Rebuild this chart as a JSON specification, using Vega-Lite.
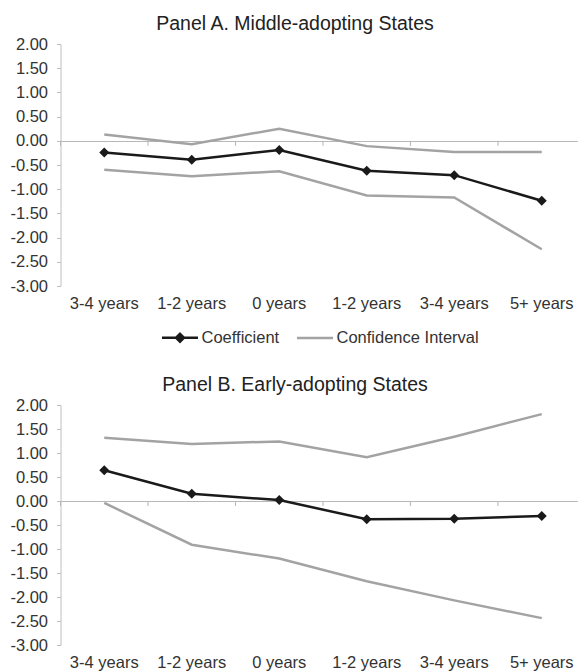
{
  "$schema": "https://vega.github.io/schema/vega-lite/v6.json",
  "padding": {"left": 9.5, "top": 14, "right": 0, "bottom": 0},
  "background": "white",
  "config": {
    "view": {"stroke": null},
    "font": "Liberation Sans",
    "title": {"font": "Liberation Sans", "fontSize": 19.5, "fontWeight": "normal", "color": "#222222", "anchor": "middle", "dx": -25, "offset": 1.3},
    "axis": {"labelFont": "Liberation Sans", "labelColor": "#333333", "labelFontSize": 16.5, "grid": false}
  },
  "datasets": {
    "est": [
      {"panel": "A", "k": 1, "series": "Coefficient", "line": "coef", "value": -0.24},
      {"panel": "A", "k": 2, "series": "Coefficient", "line": "coef", "value": -0.39},
      {"panel": "A", "k": 3, "series": "Coefficient", "line": "coef", "value": -0.19},
      {"panel": "A", "k": 4, "series": "Coefficient", "line": "coef", "value": -0.62},
      {"panel": "A", "k": 5, "series": "Coefficient", "line": "coef", "value": -0.71},
      {"panel": "A", "k": 6, "series": "Coefficient", "line": "coef", "value": -1.24},
      {"panel": "A", "k": 1, "series": "Confidence Interval", "line": "upper", "value": 0.13},
      {"panel": "A", "k": 2, "series": "Confidence Interval", "line": "upper", "value": -0.07},
      {"panel": "A", "k": 3, "series": "Confidence Interval", "line": "upper", "value": 0.25},
      {"panel": "A", "k": 4, "series": "Confidence Interval", "line": "upper", "value": -0.11},
      {"panel": "A", "k": 5, "series": "Confidence Interval", "line": "upper", "value": -0.23},
      {"panel": "A", "k": 6, "series": "Confidence Interval", "line": "upper", "value": -0.23},
      {"panel": "A", "k": 1, "series": "Confidence Interval", "line": "lower", "value": -0.60},
      {"panel": "A", "k": 2, "series": "Confidence Interval", "line": "lower", "value": -0.73},
      {"panel": "A", "k": 3, "series": "Confidence Interval", "line": "lower", "value": -0.63},
      {"panel": "A", "k": 4, "series": "Confidence Interval", "line": "lower", "value": -1.13},
      {"panel": "A", "k": 5, "series": "Confidence Interval", "line": "lower", "value": -1.17},
      {"panel": "A", "k": 6, "series": "Confidence Interval", "line": "lower", "value": -2.24},
      {"panel": "B", "k": 1, "series": "Coefficient", "line": "coef", "value": 0.64},
      {"panel": "B", "k": 2, "series": "Coefficient", "line": "coef", "value": 0.15},
      {"panel": "B", "k": 3, "series": "Coefficient", "line": "coef", "value": 0.02},
      {"panel": "B", "k": 4, "series": "Coefficient", "line": "coef", "value": -0.38},
      {"panel": "B", "k": 5, "series": "Coefficient", "line": "coef", "value": -0.37},
      {"panel": "B", "k": 6, "series": "Coefficient", "line": "coef", "value": -0.31},
      {"panel": "B", "k": 1, "series": "Confidence Interval", "line": "upper", "value": 1.32},
      {"panel": "B", "k": 2, "series": "Confidence Interval", "line": "upper", "value": 1.19},
      {"panel": "B", "k": 3, "series": "Confidence Interval", "line": "upper", "value": 1.24},
      {"panel": "B", "k": 4, "series": "Confidence Interval", "line": "upper", "value": 0.91},
      {"panel": "B", "k": 5, "series": "Confidence Interval", "line": "upper", "value": 1.34},
      {"panel": "B", "k": 6, "series": "Confidence Interval", "line": "upper", "value": 1.81},
      {"panel": "B", "k": 1, "series": "Confidence Interval", "line": "lower", "value": -0.04},
      {"panel": "B", "k": 2, "series": "Confidence Interval", "line": "lower", "value": -0.91},
      {"panel": "B", "k": 3, "series": "Confidence Interval", "line": "lower", "value": -1.20},
      {"panel": "B", "k": 4, "series": "Confidence Interval", "line": "lower", "value": -1.67},
      {"panel": "B", "k": 5, "series": "Confidence Interval", "line": "lower", "value": -2.07},
      {"panel": "B", "k": 6, "series": "Confidence Interval", "line": "lower", "value": -2.44}
    ]
  },
  "data": {"name": "est"},
  "spacing": 28,
  "resolve": {"scale": {"color": "independent"}, "legend": {"color": "independent"}},
  "vconcat": [
    {
      "width": 519,
      "height": 242,
      "title": {"text": "Panel A. Middle-adopting States"},
      "transform": [{"filter": "datum.panel === 'A'"}],
      "encoding": {
        "y": {"field": "value", "type": "quantitative",
          "scale": {"domain": [-3, 2], "nice": false, "zero": false},
          "axis": {"title": null, "values": [-3, -2.5, -2, -1.5, -1, -0.5, 0, 0.5, 1, 1.5, 2],
            "labelExpr": "(datum.value < 0 ? '-' : '') + format(abs(datum.value), '.2f')",
            "grid": true, "gridColor": "#b8b8b8", "gridWidth": 1.1,
            "gridOpacity": {"condition": {"test": "datum.value === 0", "value": 1}, "value": 0},
            "domainColor": "#bfbfbf", "tickColor": "#bfbfbf", "tickSize": 4, "labelPadding": 9}}
      },
      "layer": [
        {
          "mark": {"type": "line", "strokeWidth": 2.5},
          "encoding": {
            "x": {"field": "k", "type": "ordinal", "bandPosition": 0.5,
              "scale": {"type": "band", "paddingInner": 0, "paddingOuter": 0, "rangeMax": 525},
              "axis": {"title": null, "orient": "bottom", "domain": false, "ticks": false, "labelAngle": 0, "labelPadding": 9.3, "bandPosition": 0.5,
                "labelExpr": "['3-4 years','1-2 years','0 years','1-2 years','3-4 years','5+ years'][datum.value - 1]"}},
            "color": {"field": "series", "type": "nominal",
              "scale": {"domain": ["Coefficient", "Confidence Interval"], "range": ["#1a1a1a", "#a3a3a3"]},
              "legend": {"title": null, "orient": "none", "legendX": 100, "legendY": 274, "direction": "horizontal",
                "labelFont": "Liberation Sans", "labelFontSize": 16.5, "labelColor": "#333333", "labelOffset": 2, "columnPadding": 12,
                "symbolSize": 1300, "symbolStrokeWidth": 2.5,
                "encode": {"symbols": {"update": {
                  "shape": {"signal": "datum.value === 'Coefficient' ? 'M-1,0H1M0,-0.22L0.22,0L0,0.22L-0.22,0Z' : 'M-1,0H1'"},
                  "fill": {"signal": "datum.value === 'Coefficient' ? '#1a1a1a' : 'transparent'"},
                  "stroke": {"signal": "datum.value === 'Coefficient' ? '#1a1a1a' : '#a3a3a3'"},
                  "strokeWidth": {"value": 2.5},
                  "opacity": {"value": 1}
                }}}}},
            "detail": {"field": "line"}
          }
        },
        {
          "transform": [{"filter": "datum.line === 'coef'"}],
          "mark": {"type": "tick", "orient": "vertical", "color": "#b8b8b8", "size": 5, "thickness": 1.1, "opacity": 1},
          "encoding": {
            "x": {"field": "k", "type": "ordinal", "bandPosition": 0},
            "y": {"datum": -0.052}
          }
        },
        {
          "transform": [{"filter": "datum.line === 'coef'"}],
          "mark": {"type": "point", "shape": "diamond", "filled": true, "size": 100, "color": "#1a1a1a", "opacity": 1},
          "encoding": {"x": {"field": "k", "type": "ordinal", "bandPosition": 0.5}}
        }
      ]
    },
    {
      "width": 519,
      "height": 240,
      "title": {"text": "Panel B. Early-adopting States"},
      "transform": [{"filter": "datum.panel === 'B'"}],
      "encoding": {
        "y": {"field": "value", "type": "quantitative",
          "scale": {"domain": [-3, 2], "nice": false, "zero": false},
          "axis": {"title": null, "values": [-3, -2.5, -2, -1.5, -1, -0.5, 0, 0.5, 1, 1.5, 2],
            "labelExpr": "(datum.value < 0 ? '-' : '') + format(abs(datum.value), '.2f')",
            "grid": true, "gridColor": "#b8b8b8", "gridWidth": 1.1,
            "gridOpacity": {"condition": {"test": "datum.value === 0", "value": 1}, "value": 0},
            "domainColor": "#bfbfbf", "tickColor": "#bfbfbf", "tickSize": 4, "labelPadding": 9}}
      },
      "layer": [
        {
          "mark": {"type": "line", "strokeWidth": 2.5},
          "encoding": {
            "x": {"field": "k", "type": "ordinal", "bandPosition": 0.5,
              "scale": {"type": "band", "paddingInner": 0, "paddingOuter": 0, "rangeMax": 525},
              "axis": {"title": null, "orient": "bottom", "domain": false, "ticks": false, "labelAngle": 0, "labelPadding": 9.3, "bandPosition": 0.5,
                "labelExpr": "['3-4 years','1-2 years','0 years','1-2 years','3-4 years','5+ years'][datum.value - 1]"}},
            "color": {"field": "series", "type": "nominal",
              "scale": {"domain": ["Coefficient", "Confidence Interval"], "range": ["#1a1a1a", "#a3a3a3"]},
              "legend": null},
            "detail": {"field": "line"}
          }
        },
        {
          "transform": [{"filter": "datum.line === 'coef'"}],
          "mark": {"type": "tick", "orient": "vertical", "color": "#b8b8b8", "size": 5, "thickness": 1.1, "opacity": 1},
          "encoding": {
            "x": {"field": "k", "type": "ordinal", "bandPosition": 0},
            "y": {"datum": -0.052}
          }
        },
        {
          "transform": [{"filter": "datum.line === 'coef'"}],
          "mark": {"type": "point", "shape": "diamond", "filled": true, "size": 100, "color": "#1a1a1a", "opacity": 1},
          "encoding": {"x": {"field": "k", "type": "ordinal", "bandPosition": 0.5}}
        }
      ]
    }
  ]
}
